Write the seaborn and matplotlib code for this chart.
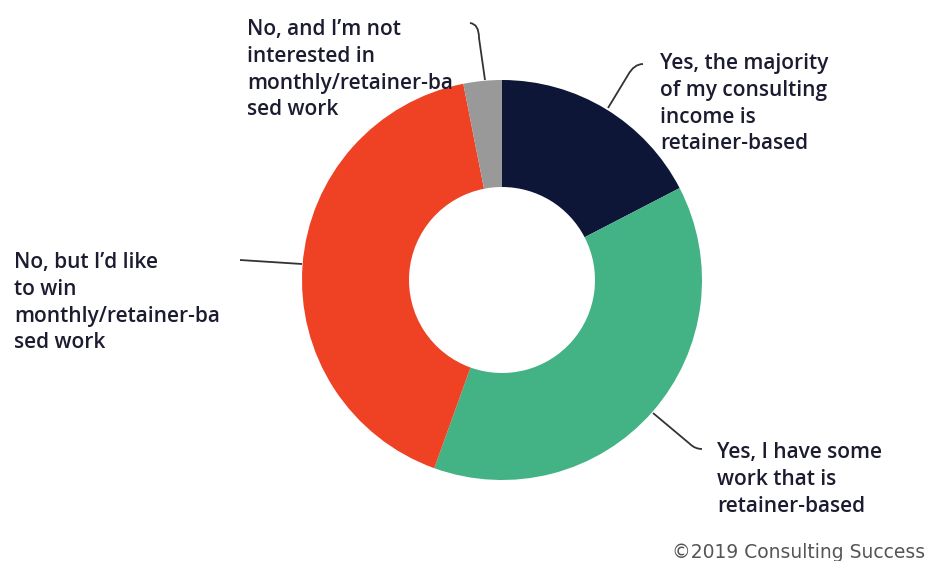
import matplotlib
matplotlib.use("Agg")
import matplotlib.pyplot as plt
from matplotlib.path import Path
from matplotlib.patches import PathPatch
import seaborn as sns

# Survey answers: "Do you have retainer-based consulting work?"
answers = [
    "Yes, the majority\nof my consulting\nincome is\nretainer-based",
    "Yes, I have some\nwork that is\nretainer-based",
    "No, but I\u2019d like\nto win\nmonthly/retainer-ba\nsed work",
    "No, and I\u2019m not\ninterested in\nmonthly/retainer-ba\nsed work",
]
shares = [17.4, 38.1, 41.4, 3.1]
colors = ["#0d1637", "#43b284", "#ef4123", "#999999"]
credit = "\u00a92019 Consulting Success"

sns.set_theme(style="white")
plt.rcParams["font.family"] = ["Open Sans", "DejaVu Sans"]

W, H = 927, 561
fig = plt.figure(figsize=(W / 100, H / 100), dpi=100)
ax = fig.add_axes([0, 0, 1, 1])

cx, cy, R = 502, H - 280, 200
ax.pie(shares, colors=colors, startangle=90, counterclock=False,
       center=(cx, cy), radius=R, frame=True,
       wedgeprops=dict(width=R * 0.535, linewidth=0))
ax.set_xlim(0, W)
ax.set_ylim(0, H)
ax.set_aspect("equal")
ax.axis("off")

def px(x, y):
    return (x, H - y)

text_kw = dict(fontsize=15, color="#1c1c30", fontweight="semibold",
               linespacing=1.36, va="top", ha="left")

label_pos = [(660, 53), (717, 442), (14, 252), (247, 19)]
for txt, (x, y) in zip(answers, label_pos):
    ax.text(*px(x, y), txt, **text_kw)

# leader lines from the labels to their wedges
leaders = [
    ([(643, 64), (634, 64), (628, 75), (608, 108)],
     [Path.MOVETO, Path.CURVE3, Path.CURVE3, Path.LINETO]),
    ([(653, 413), (690, 444), (695, 449), (702, 449)],
     [Path.MOVETO, Path.LINETO, Path.CURVE3, Path.CURVE3]),
    ([(240, 260), (302, 264)],
     [Path.MOVETO, Path.LINETO]),
    ([(470, 23), (479, 24), (479, 38), (485, 80)],
     [Path.MOVETO, Path.CURVE3, Path.CURVE3, Path.LINETO]),
]
for pts, codes in leaders:
    path = Path([px(x, y) for x, y in pts], codes)
    ax.add_patch(PathPatch(path, facecolor="none", edgecolor="#333333", lw=1.3))

ax.text(*px(925, 553), credit, fontsize=13.5, color="#555555",
        family="DejaVu Sans", ha="right", va="center")

fig.savefig("out.png", dpi=100)
